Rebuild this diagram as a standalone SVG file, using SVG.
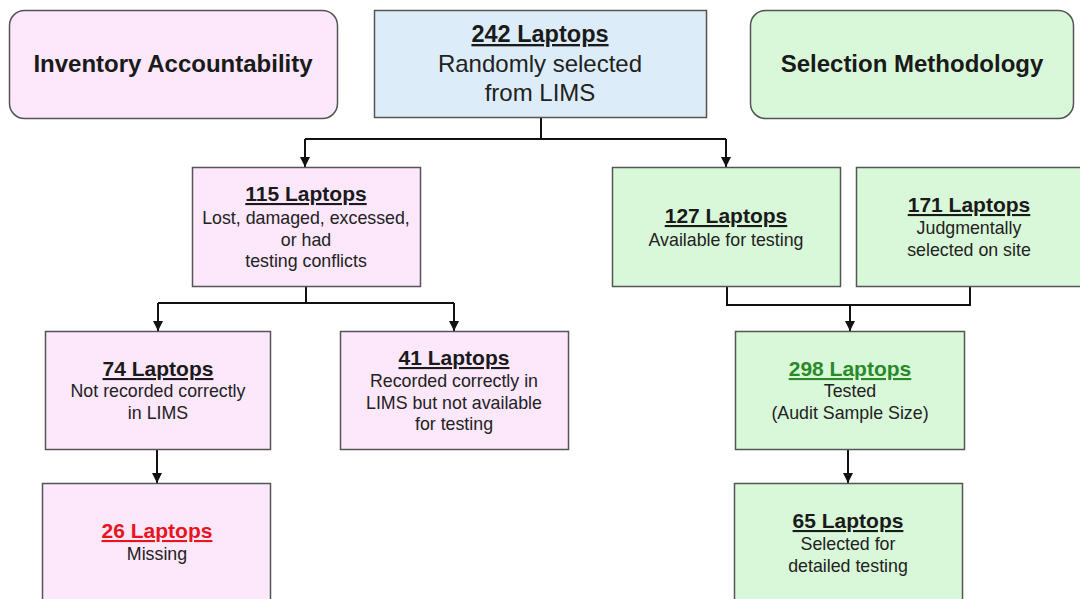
<svg xmlns="http://www.w3.org/2000/svg" width="1080" height="599" viewBox="0 0 1080 599">
<defs>
<marker id="arr" viewBox="0 0 10 10" refX="10" refY="5" markerWidth="10" markerHeight="10" markerUnits="userSpaceOnUse" orient="auto">
<path d="M0,0 L10,5 L0,10 z" fill="#111"/>
</marker>
<style>
.pink{fill:#fce7fb;stroke:#555;stroke-width:1.5}
.green{fill:#d9f8d9;stroke:#555;stroke-width:1.5}
.blue{fill:#dcedf9;stroke:#555;stroke-width:1.5}
text{font-family:"Liberation Sans",Arial,sans-serif;fill:#1a1a1a;text-anchor:middle}
.hd{font-size:24px;font-weight:bold}
.t{font-size:21px;font-weight:bold;text-decoration:underline}
.b{font-size:17.8px;fill:#222}
.big{font-size:24px;fill:#222}
.conn{fill:none;stroke:#111;stroke-width:2}
</style>
</defs>
<rect width="1080" height="599" fill="#fff"/>
<g id="connectors">
<path class="conn" d="M541,118 V139 M305,139 H726"/>
<path class="conn" d="M305,139 V167" marker-end="url(#arr)"/>
<path class="conn" d="M726,139 V167" marker-end="url(#arr)"/>
<path class="conn" d="M306,287 V303 M158,303 H454"/>
<path class="conn" d="M158,303 V331" marker-end="url(#arr)"/>
<path class="conn" d="M454,303 V331" marker-end="url(#arr)"/>
<path class="conn" d="M727,287 V305 H970 V287"/>
<path class="conn" d="M850,305 V331" marker-end="url(#arr)"/>
<path class="conn" d="M157,450 V483" marker-end="url(#arr)"/>
<path class="conn" d="M848,450 V483" marker-end="url(#arr)"/>
</g>
<g id="inventory">
<rect class="pink" x="9.5" y="10.5" width="328" height="108" rx="15"/>
<text class="hd" x="173" y="72">Inventory Accountability</text>
</g>
<g id="n242">
<rect class="blue" x="374.5" y="10.5" width="332" height="107"/>
<text class="t" x="540" y="42" style="font-size:23.5px">242 Laptops</text>
<text class="big" x="540" y="72">Randomly selected</text>
<text class="big" x="540" y="101">from LIMS</text>
</g>
<g id="selection">
<rect class="green" x="750.5" y="10.5" width="323" height="108" rx="15"/>
<text class="hd" x="912" y="72">Selection Methodology</text>
</g>
<g id="n115">
<rect class="pink" x="192.5" y="167.5" width="228" height="119"/>
<text class="t" x="306" y="201">115 Laptops</text>
<text class="b" x="306" y="224">Lost, damaged, excessed,</text>
<text class="b" x="306" y="246">or had</text>
<text class="b" x="306" y="267">testing conflicts</text>
</g>
<g id="n127">
<rect class="green" x="612.5" y="167.5" width="228" height="119"/>
<text class="t" x="726" y="223">127 Laptops</text>
<text class="b" x="726" y="246">Available for testing</text>
</g>
<g id="n171">
<rect class="green" x="856.5" y="167.5" width="228" height="119"/>
<text class="t" x="969" y="212">171 Laptops</text>
<text class="b" x="969" y="234">Judgmentally</text>
<text class="b" x="969" y="256">selected on site</text>
</g>
<g id="n74">
<rect class="pink" x="45.5" y="331.5" width="225" height="118"/>
<text class="t" x="158" y="376">74 Laptops</text>
<text class="b" x="158" y="397">Not recorded correctly</text>
<text class="b" x="158" y="419">in LIMS</text>
</g>
<g id="n41">
<rect class="pink" x="340.5" y="331.5" width="228" height="118"/>
<text class="t" x="454" y="365">41 Laptops</text>
<text class="b" x="454" y="387">Recorded correctly in</text>
<text class="b" x="454" y="409">LIMS but not available</text>
<text class="b" x="454" y="430">for testing</text>
</g>
<g id="n298">
<rect class="green" x="735.5" y="331.5" width="229" height="118"/>
<text class="t" x="850" y="376" style="fill:#2a8a2a">298 Laptops</text>
<text class="b" x="850" y="397">Tested</text>
<text class="b" x="850" y="419">(Audit Sample Size)</text>
</g>
<g id="n26">
<rect class="pink" x="42.5" y="483.5" width="228" height="130"/>
<text class="t" x="157" y="538" style="fill:#e8141e">26 Laptops</text>
<text class="b" x="157" y="560">Missing</text>
</g>
<g id="n65">
<rect class="green" x="734.5" y="483.5" width="228" height="130"/>
<text class="t" x="848" y="528">65 Laptops</text>
<text class="b" x="848" y="550">Selected for</text>
<text class="b" x="848" y="572">detailed testing</text>
</g>
</svg>
